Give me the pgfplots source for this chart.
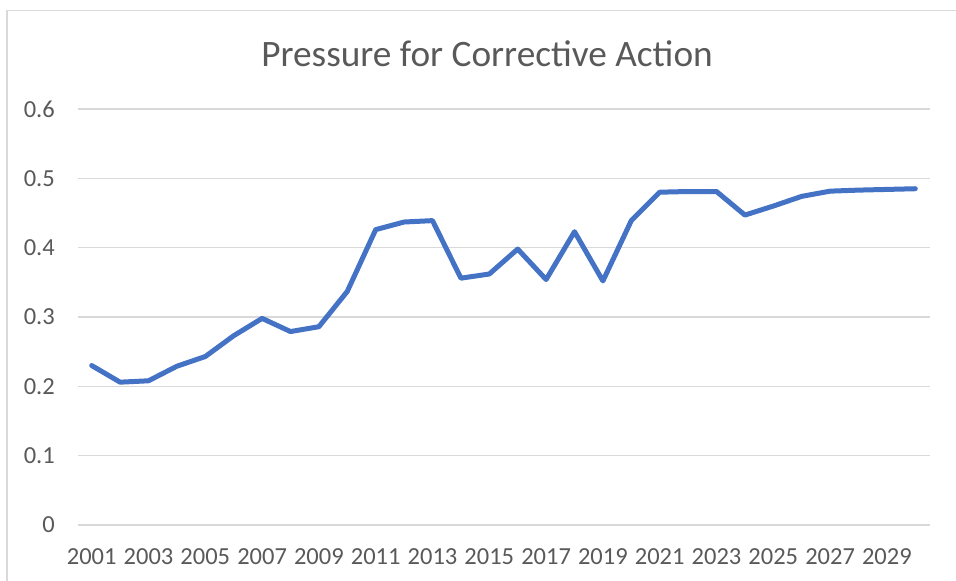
\documentclass[border=0pt]{standalone}
\usepackage{fontspec}
\setmainfont{Carlito}
\usepackage{pgfplots}
\pgfplotsset{compat=1.18}
\definecolor{linec}{HTML}{4472C4}
\definecolor{gridc}{HTML}{D9D9D9}
\definecolor{textc}{HTML}{595959}
\begin{document}
\begin{tikzpicture}
\useasboundingbox (0pt,0pt) rectangle (956pt,581pt);
\draw[gridc, line width=1.5pt] (7pt,0pt) -- (7pt,570.3pt) -- (956pt,570.3pt);
\node[anchor=base, text=textc, inner sep=0pt, font=\fontsize{37.3}{44}\selectfont] at (487pt,514.3pt) {Pressure for Corrective Action};
\begin{axis}[
  at={(77.5pt,56pt)}, anchor=south west,
  scale only axis, width=852pt, height=416pt,
  xmin=2000.5, xmax=2030.5, ymin=0, ymax=0.6,
  xtick={2001,2003,...,2029},
  ytick={0,0.1,0.2,0.3,0.4,0.5,0.6},
  axis line style={draw=none},
  major tick length=0pt,
  ymajorgrids, grid style={gridc, line width=1.3pt},
  /pgf/number format/assume math mode=true,
  xticklabel style={/pgf/number format/1000 sep={}, inner sep=0pt, anchor=north, yshift=-23pt, text=textc, font=\fontsize{24.5}{29}\selectfont},
  yticklabel style={/pgf/number format/fixed, /pgf/number format/precision=1, inner sep=0pt, anchor=east, xshift=-22.5pt, text=textc, font=\fontsize{24.5}{29}\selectfont},
  clip=false,
]
\addplot[linec, line width=5pt, line join=round, line cap=round] coordinates {
(2001,0.230) (2002,0.206) (2003,0.208) (2004,0.229) (2005,0.243)
(2006,0.273) (2007,0.298) (2008,0.279) (2009,0.286) (2010,0.337)
(2011,0.426) (2012,0.437) (2013,0.439) (2014,0.356) (2015,0.362)
(2016,0.398) (2017,0.354) (2018,0.423) (2019,0.352) (2020,0.439)
(2021,0.480) (2022,0.481) (2023,0.481) (2024,0.447) (2025,0.460)
(2026,0.474) (2027,0.4815) (2028,0.483) (2029,0.484) (2030,0.485)
};
\end{axis}
\end{tikzpicture}
\end{document}
